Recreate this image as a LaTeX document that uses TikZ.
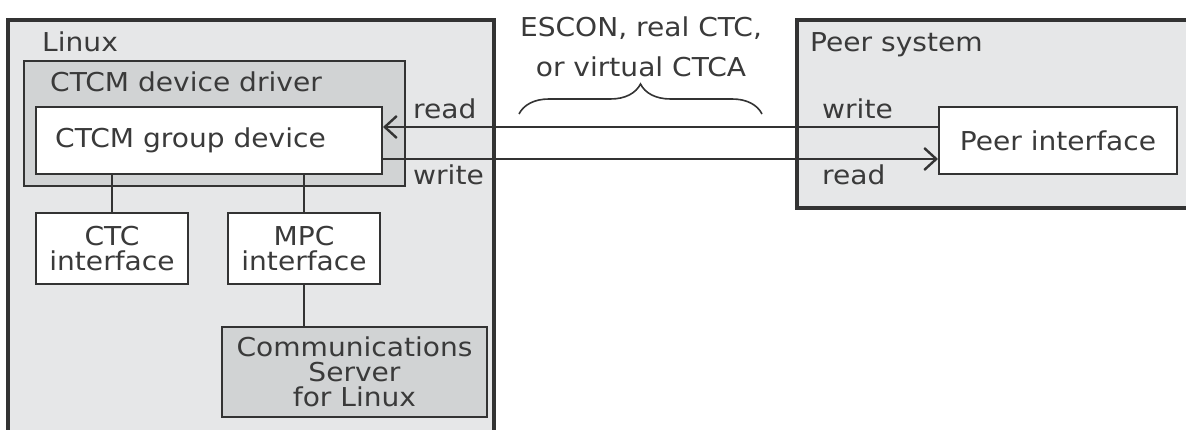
\documentclass[tikz,border=0pt]{standalone}
\usepackage{fontspec}
\setmainfont{DejaVu Sans}[FakeStretch=1.08]
\usetikzlibrary{arrows.meta,decorations.pathreplacing}
\definecolor{outerfill}{HTML}{E6E7E8}
\definecolor{innerfill}{HTML}{D1D3D4}
\definecolor{ink}{HTML}{333333}
\definecolor{txt}{HTML}{3A3A3A}
\begin{document}
\begin{tikzpicture}[x=1pt,y=-1pt,
  box/.style={draw=ink, line width=2pt, fill=white, inner sep=0pt, anchor=north west, align=center,
              text=txt, font=\fontsize{26}{25}\selectfont},
  lbl/.style={text=txt, font=\fontsize{26}{25}\selectfont, inner sep=0pt},
  conn/.style={draw=ink, line width=2pt},
  arr/.style={conn, -{Straight Barb[length=12pt,width=22pt,line width=2.4pt]}}]
\useasboundingbox (0,0) rectangle (1186,430);
\fill[white] (0,0) rectangle (1186,430);
% Linux container
\fill[outerfill] (8,20) rectangle (494,445);
\draw[ink, line width=3.5pt] (8,445) -- (8,20) -- (494,20) -- (494,445);
\node[lbl, anchor=base west] (linuxlbl) at (42,52) {Linux};
% CTCM device driver
\draw[ink, line width=2pt, fill=innerfill] (24,61) rectangle (405,186);
\node[lbl, anchor=base west] (drvlbl) at (50,92) {CTCM device driver};
% Peer system container
\fill[outerfill] (797,20) rectangle (1200,208);
\draw[ink, line width=3.5pt] (797,20) rectangle (1200,208);
\node[lbl, anchor=base west] (peerlbl) at (810,52) {Peer system};
% boxes
\node[box, minimum width=346pt, minimum height=67pt] (grp) at (35,106) {};
\node[lbl, anchor=base west] (grplbl) at (55,148) {CTCM group device};
\node[box, minimum width=152pt, minimum height=71pt] (ctc) at (35,212) {CTC\\interface};
\node[box, minimum width=152pt, minimum height=71pt] (mpc) at (227,212) {MPC\\interface};
\node[box, fill=innerfill, minimum width=265pt, minimum height=90pt] (css) at (221,326) {Communications\\Server\\for Linux};
\node[box, minimum width=238pt, minimum height=67pt] (peer) at (938,106) {Peer interface};
% connectors
\draw[conn] (ctc.north) -- (ctc.north |- grp.south);
\draw[conn] (mpc.north) -- (mpc.north |- grp.south);
\draw[conn] (mpc.south) -- (mpc.south |- css.north);
\draw[arr] ([yshift=13.5pt]peer.west) -- ([yshift=13.5pt]peer.west -| grp.east);
\draw[arr] ([yshift=-18.5pt]grp.east) -- ([yshift=-18.5pt]grp.east -| peer.west);
% read/write labels
\node[lbl, anchor=base west] (rdL) at (413,119) {read};
\node[lbl, anchor=base west] (wrL) at (413,185) {write};
\node[lbl, anchor=base west] (wrR) at (822,119) {write};
\node[lbl, anchor=base west] (rdR) at (822,185) {read};
% brace and label
\draw[ink, line width=1.6pt, decorate, decoration={brace, amplitude=30pt, aspect=0.5}] (519,114) -- (762,114);
\node[lbl, align=center, font=\fontsize{26}{40}\selectfont] (escon) at (641,47) {ESCON, real CTC,\\or virtual CTCA};
\end{tikzpicture}
\end{document}
